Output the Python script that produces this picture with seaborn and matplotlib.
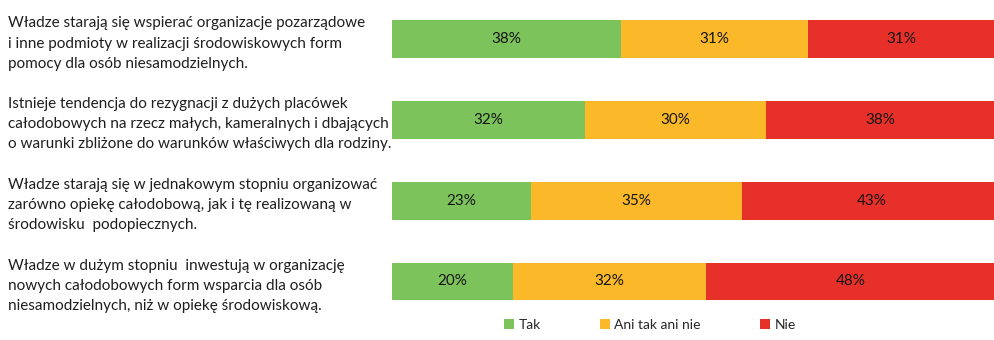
import matplotlib
matplotlib.use("Agg")
import matplotlib.pyplot as plt
import seaborn as sns
import pandas as pd
import numpy as np
from matplotlib.patches import Patch

questions = [
    "Władze starają się wspierać organizacje pozarządowe\ni inne podmioty w realizacji środowiskowych form\npomocy dla osób niesamodzielnych.",
    "Istnieje tendencja do rezygnacji z dużych placówek\ncałodobowych na rzecz małych, kameralnych i dbających\no warunki zbliżone do warunków właściwych dla rodziny.",
    "Władze starają się w jednakowym stopniu organizować\nzarówno opiekę całodobową, jak i tę realizowaną w\nśrodowisku  podopiecznych.",
    "Władze w dużym stopniu  inwestują w organizację\nnowych całodobowych form wsparcia dla osób\nniesamodzielnych, niż w opiekę środowiskową.",
]
tak = [38, 32, 23, 20]
ani = [31, 30, 35, 32]
nie = [31, 38, 43, 48]
series_names = ["Tak", "Ani tak ani nie", "Nie"]
colors = ["#7cc35c", "#fbb829", "#e8302a"]

sns.set_theme(style="white")
plt.rcParams['font.family'] = ['Lato', 'DejaVu Sans']

df = pd.DataFrame({"q": questions, "Tak": tak, "Ani": ani, "Nie": nie})
df["c1"] = df["Tak"]
df["c2"] = df["Tak"] + df["Ani"]
df["c3"] = df["c2"] + df["Nie"]

fig = plt.figure(figsize=(9.95, 3.4), dpi=100)
H = 340.0
ax_bottom_px = 320.0
ax = fig.add_axes([392/995, 1 - ax_bottom_px/H, 1 - 392/995, ax_bottom_px/H])

for col, c in zip(["c3", "c2", "c1"], colors[::-1]):
    sns.barplot(data=df, y="q", x=col, orient="h", color=c, width=0.47,
                ax=ax, saturation=1, edgecolor="none")

# labels
for i in range(len(questions)):
    starts = [0, df["c1"][i], df["c2"][i]]
    vals = [tak[i], ani[i], nie[i]]
    for s, v in zip(starts, vals):
        ax.text(s + v / 2, i, f"{v}%", ha="center", va="center",
                fontsize=11, color="#151515")

# y positions: center 0 at 39px, center 3 at 281.5px
spacing = (281.5 - 39) / 3
ax.set_ylim(3 + (ax_bottom_px - 281.5) / spacing, -39 / spacing)
ax.set_xlim(0, 100)
ax.set_xlabel("")
ax.set_ylabel("")
ax.set_xticks([])
sns.despine(ax=ax, left=True, bottom=True)
ax.tick_params(axis="y", length=0, pad=(392 - 8) * 72 / 100)
for lab in ax.get_yticklabels():
    lab.set_ha("left")
    lab.set_fontsize(11)
    lab.set_color("#1e1e1e")
    lab.set_linespacing(1.55)

handles = [Patch(facecolor=c, edgecolor="none") for c in colors]
fig.legend(handles, series_names, loc="center", bbox_to_anchor=(650/995, 1 - 325/H),
           ncol=3, frameon=False, fontsize=10, handlelength=0.7, handleheight=0.7,
           handletextpad=0.3, columnspacing=4.3)

fig.savefig("out.png", dpi=100, facecolor="white")
